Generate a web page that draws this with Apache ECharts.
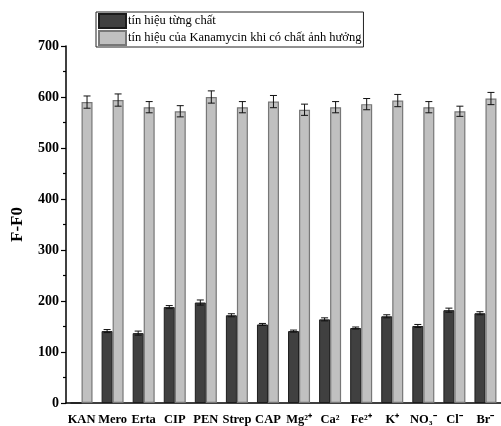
<!DOCTYPE html>
<html>
<head>
<meta charset="utf-8">
<script src="https://cdn.jsdelivr.net/npm/echarts@6/dist/echarts.min.js"></script>
<style>
html,body{margin:0;padding:0;background:#fff;}
#chart{width:501px;height:426px;}
</style>
</head>
<body>
<div id="chart"></div>
<script>
// Interferent categories
var categories = ['KAN', 'Mero', 'Erta', 'CIP', 'PEN', 'Strep', 'CAP', 'Mg\u00B2\u207A', 'Ca\u00B2', 'Fe\u00B2\u207A', 'K\u207A', 'NO\u2083\u207B', 'Cl\u207B', 'Br\u207B'];

// Signal of each substance alone
var singleSignal = [0, 141, 137, 188, 197, 172, 154, 141, 164, 147, 170, 151, 182, 176];
var singleError  = [null, 3, 4, 3, 5, 3, 2, 2, 3, 2, 3, 3, 4, 3];

// Kanamycin signal in presence of the interferent
var kanSignal = [590, 594, 580, 572, 600, 580, 591, 575, 580, 586, 593, 580, 572, 597];
var kanError  = [12, 12, 11, 11, 12, 11, 12, 11, 11, 11, 12, 11, 10, 12];

var yTicks = { min: 0, max: 700, interval: 100 };

var seriesNames = ['tín hiệu từng chất', 'tín hiệu của Kanamycin khi có chất ảnh hưởng'];

var BAR_W = 11;
var SERIF = '"Liberation Serif", "Times New Roman", serif';

function errorSeries(values, errors, shift) {
  var data = values.map(function (v, i) { return [i, v, errors[i]]; })
                   .filter(function (d) { return d[2] != null; });
  return {
    type: 'custom',
    data: data,
    z: 10,
    silent: true,
    renderItem: function (params, api) {
      var i = api.value(0), v = api.value(1), e = api.value(2);
      var hi = api.coord([i, v + e]);
      var lo = api.coord([i, v - e]);
      var x = hi[0] + shift;
      var cap = 3.5;
      var st = { stroke: '#111', lineWidth: 1 };
      return {
        type: 'group',
        children: [
          { type: 'line', shape: { x1: x, y1: hi[1], x2: x, y2: lo[1] }, style: st },
          { type: 'line', shape: { x1: x - cap, y1: hi[1], x2: x + cap, y2: hi[1] }, style: st },
          { type: 'line', shape: { x1: x - cap, y1: lo[1], x2: x + cap, y2: lo[1] }, style: st }
        ]
      };
    }
  };
}

var chart = echarts.init(document.getElementById('chart'));
chart.setOption({
  animation: false,
  backgroundColor: '#fff',
  legend: {
    orient: 'vertical',
    left: 96,
    top: 12,
    icon: 'rect',
    itemWidth: 27,
    itemHeight: 14,
    itemGap: 1,
    padding: [1, 2, 1, 2],
    borderColor: '#222',
    borderWidth: 1,
    data: seriesNames,
    textStyle: { fontFamily: SERIF, fontSize: 12.5, color: '#000', padding: [0, 0, 0, -3] }
  },
  grid: { left: 66, top: 46, width: 436, bottom: 22 },
  xAxis: [{
    type: 'category',
    data: categories,
    axisLine: { lineStyle: { color: '#000', width: 1.5 } },
    axisTick: { alignWithLabel: true, length: 5, lineStyle: { color: '#000', width: 1.2 } },
    axisLabel: { interval: 0, margin: 10, color: '#000', fontFamily: SERIF, fontSize: 12.5, fontWeight: 'bold' }
  }, {
    type: 'category',
    data: categories,
    position: 'bottom',
    axisLine: { show: false },
    axisTick: { length: 3, lineStyle: { color: '#000', width: 1.2 } },
    axisLabel: { show: false }
  }],
  yAxis: {
    type: 'value',
    min: yTicks.min,
    max: yTicks.max,
    interval: yTicks.interval,
    name: 'F-F0',
    nameLocation: 'middle',
    nameGap: 40,
    nameTextStyle: { fontFamily: SERIF, fontSize: 17, fontWeight: 'bold', color: '#000' },
    splitLine: { show: false },
    axisLine: { show: true, lineStyle: { color: '#000', width: 1.5 } },
    axisTick: { show: true, length: 5, lineStyle: { color: '#000', width: 1.2 } },
    minorTick: { show: true, splitNumber: 2, length: 3, lineStyle: { color: '#000', width: 1.2 } },
    axisLabel: { margin: 7, color: '#000', fontFamily: SERIF, fontSize: 14, fontWeight: 'bold' }
  },
  series: [{
    name: seriesNames[0],
    type: 'bar',
    data: singleSignal,
    barWidth: BAR_W,
    barGap: '0%',
    itemStyle: { color: '#404040', borderColor: '#1c1c1c', borderWidth: 1 }
  }, {
    name: seriesNames[1],
    type: 'bar',
    data: kanSignal,
    barWidth: BAR_W,
    barGap: '0%',
    itemStyle: { color: '#c0c0c0', borderColor: '#777', borderWidth: 1.2 }
  },
  errorSeries(singleSignal, singleError, -BAR_W / 2),
  errorSeries(kanSignal, kanError, BAR_W / 2)]
});
</script>
</body>
</html>
